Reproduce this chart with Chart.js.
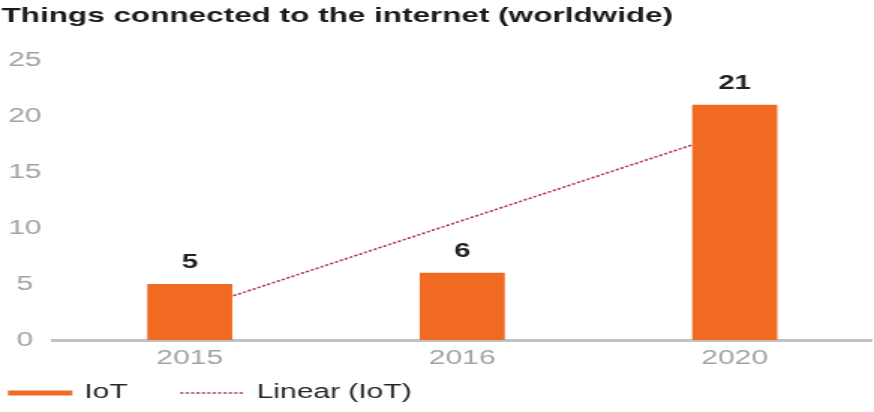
<!DOCTYPE html>
<html>
<head>
<meta charset="utf-8">
<title>Things connected to the internet (worldwide)</title>
<script src="https://cdn.jsdelivr.net/npm/chart.js@4/dist/chart.umd.min.js"></script>
<style>
  html, body { margin: 0; padding: 0; background: #ffffff; overflow: hidden; }
  /* the chart is laid out narrow and widened, giving the broad lettering of the print version */
  #wrap { width: 583px; height: 412px; transform: scaleX(1.4991); transform-origin: 0 0; }
  canvas { display: block; }
</style>
</head>
<body>
<div id="wrap"><canvas id="chart" width="583" height="412"></canvas></div>
<script>
// Connected things, billions
const years = ['2015', '2016', '2020'];
const iotValues = [5, 6, 21];
const yTicks = [0, 5, 10, 15, 20, 25];
const seriesNames = ['IoT', 'Linear (IoT)'];

const FONT = "'Liberation Sans', Arial, Helvetica, sans-serif";
const ORANGE = '#F06A21';
const TREND = '#B3374A';
const DASH = [2.2, 1.4];

// least-squares trend over the category positions 1..n
function linearFit(values) {
  const n = values.length;
  const xs = values.map((_, i) => i + 1);
  const mx = xs.reduce((a, b) => a + b, 0) / n;
  const my = values.reduce((a, b) => a + b, 0) / n;
  let num = 0, den = 0;
  xs.forEach((x, i) => { num += (x - mx) * (values[i] - my); den += (x - mx) * (x - mx); });
  const slope = num / den;
  return xs.map(x => my + slope * (x - mx));
}
const trendValues = linearFit(iotValues);

// value labels above the bars
const barLabels = {
  id: 'barLabels',
  afterDatasetsDraw(chart) {
    const ctx = chart.ctx;
    const meta = chart.getDatasetMeta(0);
    ctx.save();
    ctx.font = 'bold 19.5px ' + FONT;
    ctx.fillStyle = '#222222';
    ctx.textAlign = 'center';
    ctx.textBaseline = 'middle';
    meta.data.forEach((bar, i) => {
      ctx.fillText(String(Math.round(iotValues[i])), bar.x, bar.y - 21);
    });
    ctx.restore();
  }
};

// legend row along the bottom edge
const bottomLegend = {
  id: 'bottomLegend',
  afterDraw(chart) {
    const ctx = chart.ctx;
    const y = 393;
    const sampleW = 43, textGap = 8, itemGap = 35;
    let x = 5.3;
    ctx.save();
    ctx.font = '20px ' + FONT;
    ctx.textBaseline = 'middle';
    ctx.textAlign = 'left';
    chart.data.datasets.forEach((ds) => {
      ctx.beginPath();
      if (ds.type === 'line') {
        ctx.strokeStyle = ds.borderColor;
        ctx.lineWidth = 1.4;
        ctx.setLineDash(ds.borderDash);
      } else {
        ctx.strokeStyle = ds.backgroundColor;
        ctx.lineWidth = 5;
        ctx.setLineDash([]);
      }
      ctx.moveTo(x, y);
      ctx.lineTo(x + sampleW, y);
      ctx.stroke();
      ctx.setLineDash([]);
      ctx.fillStyle = '#262626';
      const tx = x + sampleW + textGap;
      ctx.fillText(ds.label, tx, y - 1);
      x = tx + ctx.measureText(ds.label).width + itemGap;
    });
    ctx.restore();
  }
};

new Chart(document.getElementById('chart'), {
  data: {
    labels: years,
    datasets: [
      {
        type: 'bar',
        label: seriesNames[0],
        data: iotValues,
        backgroundColor: ORANGE,
        borderWidth: 0,
        categoryPercentage: 1,
        barPercentage: 0.312,
        order: 0
      },
      {
        type: 'line',
        label: seriesNames[1],
        data: trendValues,
        borderColor: TREND,
        borderWidth: 1.6,
        borderDash: DASH,
        pointRadius: 0,
        fill: false,
        tension: 0,
        order: 1
      }
    ]
  },
  options: {
    responsive: false,
    animation: false,
    devicePixelRatio: 1,
    layout: { padding: { left: 1, right: 2, top: 0, bottom: 42 } },
    plugins: {
      legend: { display: false },
      tooltip: { enabled: false },
      title: {
        display: true,
        text: 'Things connected to the internet (worldwide)',
        align: 'start',
        color: '#1c1c1c',
        font: { family: FONT, size: 21, weight: 'bold', lineHeight: 1.2 },
        padding: { top: 4, bottom: 30.8 }
      }
    },
    scales: {
      x: {
        type: 'category',
        offset: true,
        grid: { display: false, drawTicks: false },
        border: { display: true, color: '#C2C2C2', width: 3 },
        ticks: { color: '#A3A3A3', font: { family: FONT, size: 20 }, padding: 6 },
        afterFit(scale) { scale.height = 30; }
      },
      y: {
        min: 0,
        max: 25,
        afterBuildTicks(scale) { scale.ticks = yTicks.map(v => ({ value: v })); },
        grid: { display: false, drawTicks: false },
        border: { display: false },
        ticks: { color: '#A3A3A3', font: { family: FONT, size: 20 }, padding: 8, crossAlign: 'center' },
        afterFit(scale) { scale.width = 34.7; }
      }
    }
  },
  plugins: [barLabels, bottomLegend]
});
</script>
</body>
</html>
